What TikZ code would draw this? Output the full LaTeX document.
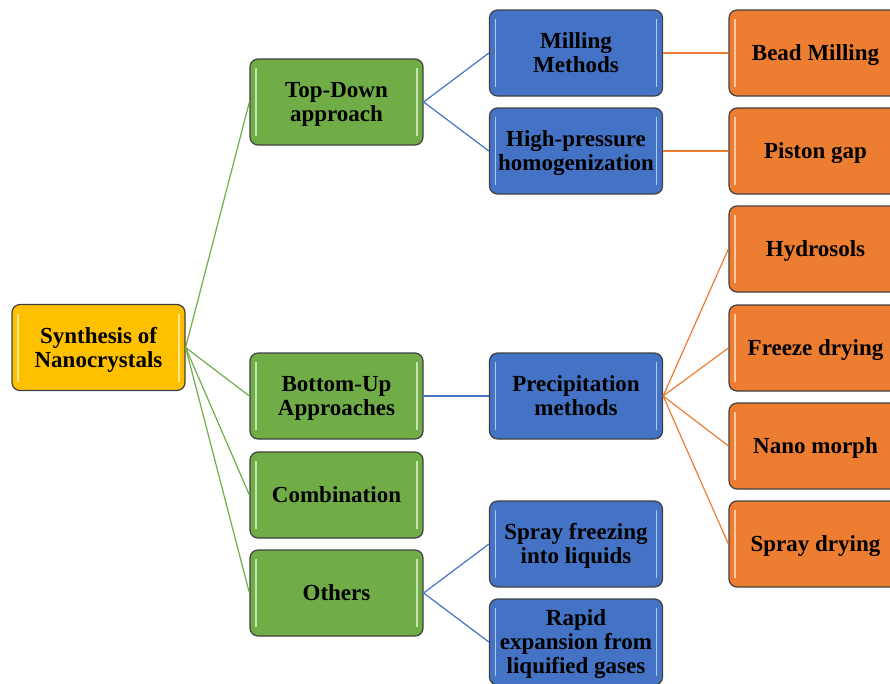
\documentclass[tikz,border=0pt]{standalone}
\usepackage{fontspec}
\setmainfont{Liberation Serif}
\definecolor{cyel}{HTML}{FFC000}
\definecolor{cgrn}{HTML}{70AD47}
\definecolor{cblu}{HTML}{4472C4}
\definecolor{corg}{HTML}{ED7D31}
\definecolor{cbrd}{HTML}{404040}
\definecolor{hyel}{HTML}{FFE98A}
\definecolor{hgrn}{HTML}{C5E3B0}
\definecolor{hblu}{HTML}{B4C8EE}
\definecolor{horg}{HTML}{FBC9A4}
\newcommand{\bxt}[1]{\raisebox{-9pt}[0pt][0pt]{\begin{tabular}{@{}c@{}}#1\end{tabular}}}
\begin{document}
\begin{tikzpicture}[x=1pt,y=-1pt,
  box/.style={draw=cbrd, line width=1.2pt, rounded corners=8pt,
    minimum width=173pt, minimum height=86pt, inner sep=0pt, align=center,
    font=\bfseries\fontsize{23}{24}\selectfont, text=black,
    path picture={
      \draw[line width=1.8pt,#1]
        ([xshift=6pt,yshift=-9pt]path picture bounding box.north west) --
        ([xshift=6pt,yshift=9pt]path picture bounding box.south west);
      \draw[line width=1.8pt,#1]
        ([xshift=-6pt,yshift=-9pt]path picture bounding box.north east) --
        ([xshift=-6pt,yshift=9pt]path picture bounding box.south east);
    }},
  ybox/.style={box=hyel, fill=cyel},
  gbox/.style={box=hgrn, fill=cgrn},
  bbox/.style={box=hblu, fill=cblu},
  obox/.style={box=horg, fill=corg},
  gline/.style={draw=cgrn, line width=1.2pt},
  bline/.style={draw=cblu, line width=1.2pt},
  oline/.style={draw=corg, line width=1.2pt}]
\useasboundingbox (0,0) rectangle (890,683);

\node[ybox] (root) at (98.5,347.5) {\bxt{Synthesis of\\Nanocrystals}};

\node[gbox] (td) at (336.5,102) {\bxt{Top-Down\\approach}};
\node[gbox] (bu) at (336.5,396) {\bxt{Bottom-Up\\Approaches}};
\node[gbox] (comb) at (336.5,495) {\bxt{Combination}};
\node[gbox] (oth) at (336.5,593) {\bxt{Others}};

\node[bbox] (mill) at (576,53) {\bxt{Milling\\Methods}};
\node[bbox] (hph) at (576,151) {\bxt{High-pressure\\homogenization}};
\node[bbox] (prec) at (576,396) {\bxt{Precipitation\\methods}};
\node[bbox] (sfl) at (576,544) {\bxt{Spray freezing\\into liquids}};
\node[bbox] (rel) at (576,642) {\bxt{Rapid\\expansion from\\liquified\ gases}};

\node[obox] (bead) at (815.5,53) {\bxt{Bead Milling}};
\node[obox] (pist) at (815.5,151) {\bxt{Piston gap}};
\node[obox] (hydr) at (815.5,249) {\bxt{Hydrosols}};
\node[obox] (frz) at (815.5,348) {\bxt{Freeze drying}};
\node[obox] (nano) at (815.5,446) {\bxt{Nano morph}};
\node[obox] (spd) at (815.5,544) {\bxt{Spray drying}};

\draw[gline] (root.east) -- (td.west);
\draw[gline] (root.east) -- (bu.west);
\draw[gline] (root.east) -- (comb.west);
\draw[gline] (root.east) -- (oth.west);

\draw[bline] (td.east) -- (mill.west);
\draw[bline] (td.east) -- (hph.west);
\draw[bline] (bu.east) -- (prec.west);
\draw[bline] (oth.east) -- (sfl.west);
\draw[bline] (oth.east) -- (rel.west);

\draw[oline] (mill.east) -- (bead.west);
\draw[oline] (hph.east) -- (pist.west);
\draw[oline] (prec.east) -- (hydr.west);
\draw[oline] (prec.east) -- (frz.west);
\draw[oline] (prec.east) -- (nano.west);
\draw[oline] (prec.east) -- (spd.west);
\end{tikzpicture}
\end{document}
